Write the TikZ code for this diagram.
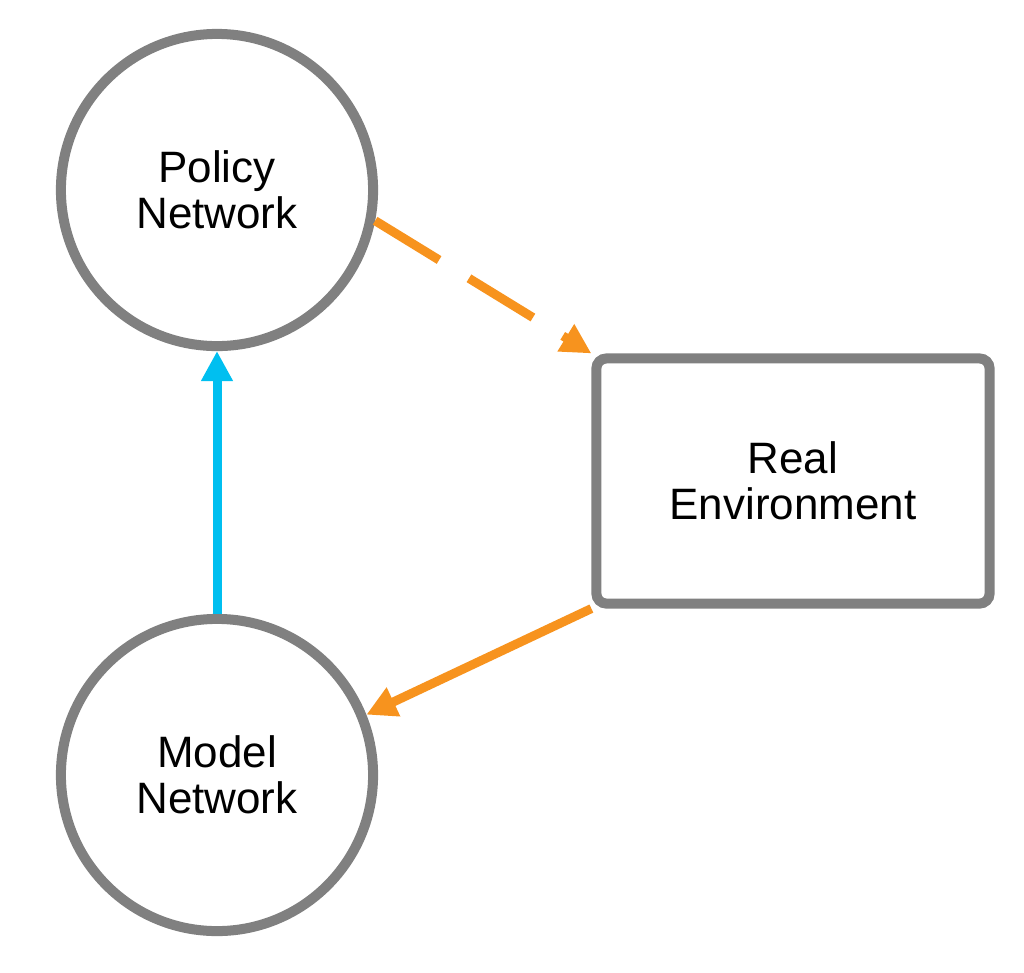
\documentclass[tikz,border=0pt]{standalone}
\usepackage{fontspec}
\setmainfont{Liberation Sans}
\usetikzlibrary{arrows.meta}
\definecolor{gr}{HTML}{808080}
\definecolor{org}{HTML}{F7931E}
\definecolor{blu}{HTML}{00BFF0}
\begin{document}
\begin{tikzpicture}[x=0.01cm,y=-0.01cm,
  nd/.style={draw=gr,line width=0.1cm,align=center,font=\fontsize{12.5}{13.2}\selectfont,fill=white},
  circ/.style={nd,circle,minimum size=3.12cm,inner sep=0pt},
  box/.style={nd,rectangle,rounded corners=0.1cm,minimum width=3.93cm,minimum height=2.45cm},
  arr/.style={line width=0.09cm,-{Triangle[length=0.3cm,width=0.3cm]}}]
\useasboundingbox (0,0) rectangle (1024,972);
\node[circ] (p) at (217,190) {Policy\\Network};
\node[circ] (m) at (217,775) {Model\\Network};
\node[box] (r) at (793,481) {Real\\Environment};
\draw[arr,org,dash pattern=on 0.75cm off 0.35cm] (p.-11) -- (r.north west);
\draw[arr,org] (r.south west) -- (m.22);
\draw[arr,blu] (m.north) -- (p.south);
\end{tikzpicture}
\end{document}
